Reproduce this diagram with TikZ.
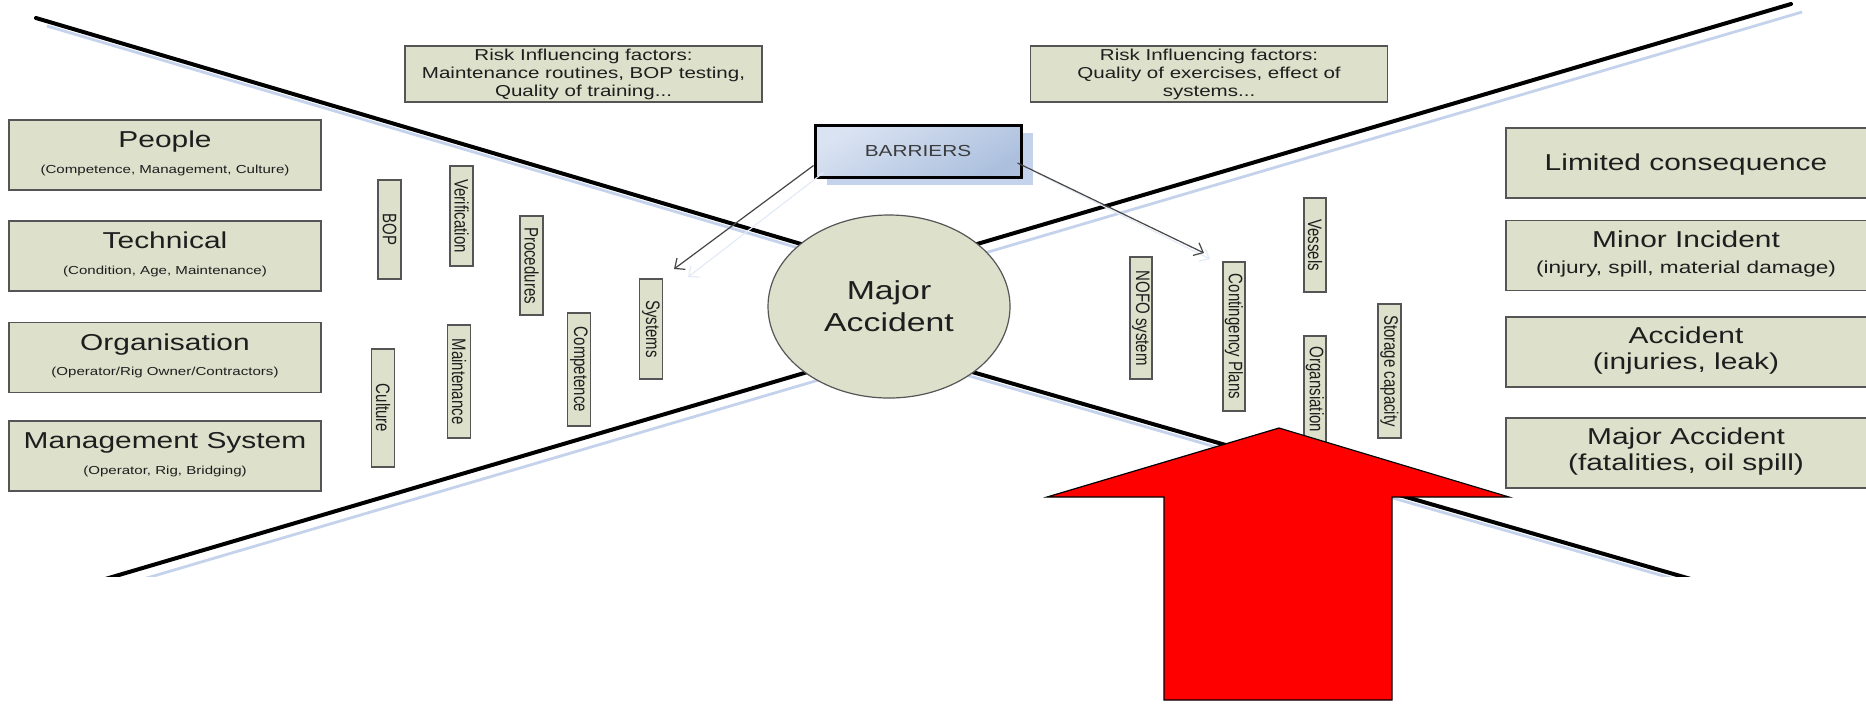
\documentclass[tikz,border=0pt]{standalone}
\usepackage{fontspec}
\usepackage{graphicx}
\setmainfont{Liberation Sans}[FakeStretch=1.3]
\newfontfamily\rotfont{Liberation Sans}
\usetikzlibrary{arrows.meta,shapes.geometric}

\definecolor{boxfill}{RGB}{221,224,203}
\definecolor{boxline}{RGB}{85,85,85}
\definecolor{shadowblue}{RGB}{196,211,235}
\definecolor{txt}{RGB}{30,30,30}
\definecolor{barrtop}{RGB}{218,227,242}
\definecolor{barrbot}{RGB}{172,192,222}
\definecolor{barrtext}{RGB}{60,60,60}
\definecolor{arrowgray}{RGB}{70,70,70}

\newcommand{\fsz}[2]{\fontsize{#1}{#2}\selectfont}
\newcommand{\vt}[1]{\scalebox{1}[1.3]{#1}}

\begin{document}
\begin{tikzpicture}[x=0.5pt,y=-0.5pt,
  every node/.style={text=txt},
  hbox/.style={draw=boxline, fill=boxfill, line width=0.65pt, inner sep=0pt,
    minimum width=156pt, minimum height=35pt},
  rbox/.style={hbox, minimum width=190pt},
  riskbox/.style={draw=boxline, fill=boxfill, line width=0.55pt, inner sep=0pt,
    minimum width=178.5pt, minimum height=28pt, align=center, font=\fsz{7.9}{9}},
  vbox/.style={draw=boxline, fill=boxfill, line width=0.55pt, inner sep=0pt,
    rotate=-90, minimum height=11.5pt, font=\rotfont\fsz{7.5}{8}},
  title/.style={anchor=base, inner sep=0pt, font=\fsz{11.5}{13}},
  subl/.style={anchor=base, inner sep=0pt, font=\fsz{5.8}{7}},
  subr/.style={anchor=base, inner sep=0pt, font=\fsz{8.7}{10}},
  twoline/.style={inner sep=0pt, align=center, font=\fsz{11.5}{13}},
  barrbox/.style={draw=black, line width=1.5pt, top color=barrtop, bottom color=barrbot,
    shading angle=30, inner sep=0pt, minimum width=103pt, minimum height=26pt,
    font=\fsz{8}{9}, text=barrtext},
  barrshadow/.style={fill=shadowblue, inner sep=0pt, minimum width=103pt, minimum height=26pt},
  mainline/.style={draw=black, line width=2pt, line cap=round, line join=round},
  lineshadow/.style={draw=shadowblue, line width=1.4pt, line join=round},
  barrow/.style={draw=arrowgray, line width=0.6pt, -{Straight Barb[length=4pt,width=7pt]}},
  arrowshadow/.style={draw=shadowblue!45, line width=0.6pt, -{Straight Barb[length=4pt,width=7pt]}},
  redarrow/.style={fill=red, draw=black, line width=0.6pt, line join=miter}
]
\useasboundingbox (0,0) rectangle (1866,703);
\fill[white] (0,0) rectangle (1866,703);

% bow-tie wings
\coordinate (a1) at (36,18);
\coordinate (ctop) at (889,270);
\coordinate (b2) at (1791,4);
\coordinate (b1) at (68,590);
\coordinate (cbot) at (889,348);
\coordinate (a2) at (1729,590);

\begin{scope}
  \clip (0,0) rectangle (1866,576);
  \draw[lineshadow] ([shift={(11,8)}]a1) -- ([shift={(11,8)}]ctop) -- ([shift={(11,8)}]b2);
  \draw[lineshadow] ([shift={(11,8)}]b1) -- ([shift={(11,8)}]cbot) -- ([shift={(11,8)}]a2);
  \draw[mainline] (a1) -- (ctop) -- (b2);
  \draw[mainline] (b1) -- (cbot) -- (a2);
\end{scope}

% central event
\node[ellipse, draw=boxline, fill=boxfill, line width=0.6pt, minimum width=121pt,
  minimum height=91.5pt, inner sep=0pt, align=center, font=\fsz{13}{16}]
  (major) at (889,306.5) {Major\\Accident};

% causes
\node[hbox] (people) at (165,155) {};
\node[title] (people-t) at ([yshift=-14.25pt]people.north) {People};
\node[subl] (people-s) at ([yshift=-27pt]people.north) {(Competence, Management, Culture)};

\node[hbox] (technical) at (165,256) {};
\node[title] (technical-t) at ([yshift=-14.25pt]technical.north) {Technical};
\node[subl] (technical-s) at ([yshift=-27pt]technical.north) {(Condition, Age, Maintenance)};

\node[hbox] (organisation) at (165,357.5) {};
\node[title] (organisation-t) at ([yshift=-14.25pt]organisation.north) {Organisation};
\node[subl] (organisation-s) at ([yshift=-27pt]organisation.north) {(Operator/Rig Owner/Contractors)};

\node[hbox] (mgmt) at (165,456) {};
\node[title] (mgmt-t) at ([yshift=-14.25pt]mgmt.north) {Management System};
\node[subl] (mgmt-s) at ([yshift=-27pt]mgmt.north) {(Operator, Rig, Bridging)};

% consequences
\node[rbox] (limited) at (1696,163) {};
\node[title] (limited-t) at ([xshift=-5pt,yshift=-21.5pt]limited.north) {Limited consequence};

\node[rbox] (minor) at (1696,255.5) {};
\node[title] (minor-t) at ([xshift=-5pt,yshift=-14pt]minor.north) {Minor Incident};
\node[subr] (minor-s) at ([xshift=-5pt,yshift=-26.75pt]minor.north) {(injury, spill, material damage)};

\node[rbox] (accident) at (1696,352) {};
\node[twoline] (accident-t) at (1686,351) {Accident\\(injuries, leak)};

\node[rbox] (majoracc) at (1696,453) {};
\node[twoline] (majoracc-t) at (1686,452) {Major Accident\\(fatalities, oil spill)};

% risk influencing factors
\node[riskbox] (rif1) at (583.5,74) {Risk Influencing factors:\\Maintenance routines, BOP testing,\\Quality of training...};
\node[riskbox] (rif2) at (1209,74) {Risk Influencing factors:\\Quality of exercises, effect of\\systems...};

% preventive barriers
\node[vbox, minimum width=49.5pt] (bop) at (389.5,229.5) {\vt{BOP}};
\node[vbox, minimum width=50pt] (verif) at (461.5,216) {\vt{Verification}};
\node[vbox, minimum width=49.5pt] (proc) at (531.5,265.5) {\vt{Procedures}};
\node[vbox, minimum width=59pt] (culture) at (383,408) {\vt{Culture}};
\node[vbox, minimum width=56.5pt] (maint) at (459,381.5) {\vt{Maintenance}};
\node[vbox, minimum width=56.5pt] (comp) at (579,369.5) {\vt{Competence}};
\node[vbox, minimum width=50pt] (systems) at (651,329) {\vt{Systems}};

% mitigating barriers
\node[vbox, minimum width=61pt, minimum height=11pt] (nofo) at (1141,318) {\vt{NOFO system}};
\node[vbox, minimum width=74.5pt, minimum height=11pt] (cont) at (1234,336.5) {\vt{Contingency Plans}};
\node[vbox, minimum width=47pt, minimum height=11pt] (vessels) at (1315,245) {\vt{Vessels}};
\node[vbox, minimum width=53.5pt, minimum height=11pt] (organs) at (1315,389.5) {\vt{Organsiation}};
\node[vbox, minimum width=67pt] (storage) at (1389.5,371) {\vt{Storage capacity}};

% barriers label with pointers to both sides
\node[barrshadow] (barriers-sh) at (930,159) {};
\node[barrbox] (barriers) at (918,151) {BARRIERS};
\coordinate (tipL) at (674,269);
\coordinate (tipR) at (1204,253);
\draw[arrowshadow] ([xshift=5pt,yshift=-10.75pt]barriers.west) -- ([shift={(14,8)}]tipL);
\draw[arrowshadow] ([xshift=3pt,yshift=-9pt]barriers.east) -- ([shift={(6,6)}]tipR);
\draw[barrow] ([yshift=-7.25pt]barriers.west) -- (tipL);
\draw[barrow] ([xshift=-2.5pt,yshift=-6pt]barriers.east) -- (tipR);

% big red arrow
\draw[redarrow] (1279,428) -- (1509,497) -- (1392,497) -- (1392,700) -- (1164,700)
  -- (1164,497) -- (1047,497) -- cycle;
\end{tikzpicture}
\end{document}
